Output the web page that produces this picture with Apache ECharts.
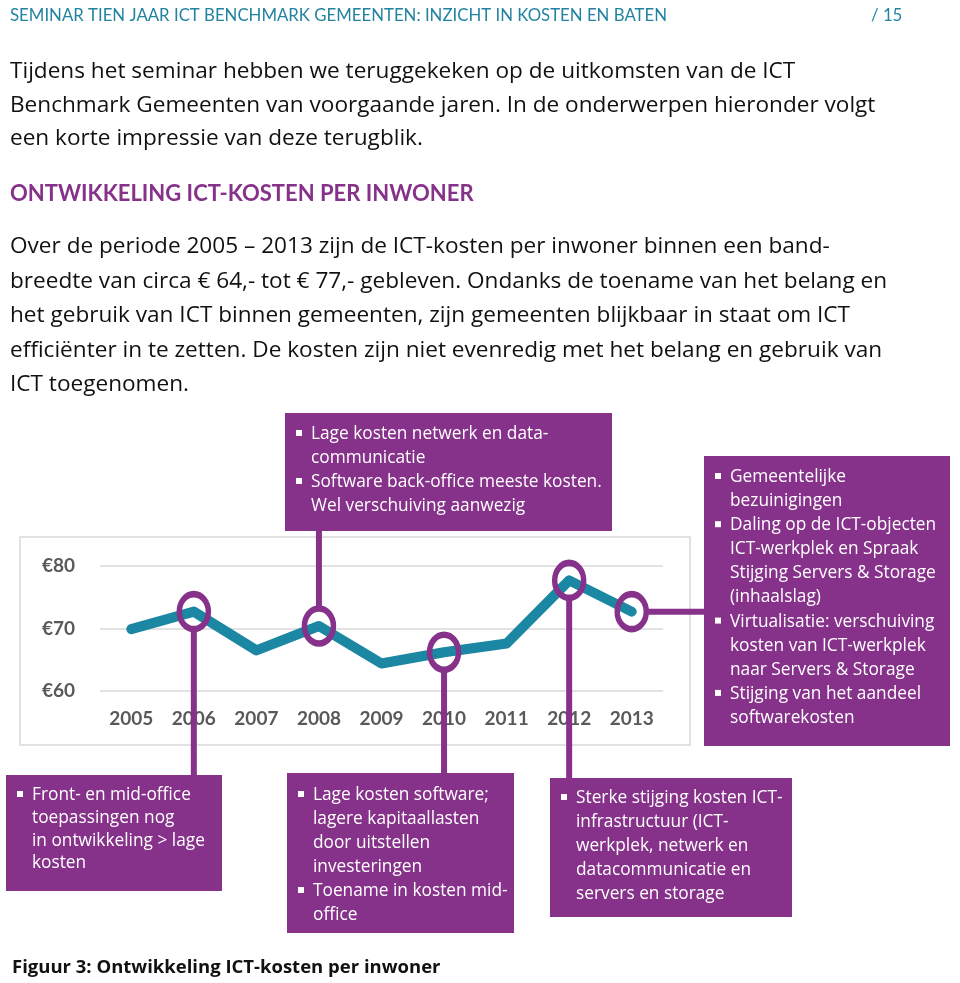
<!DOCTYPE html>
<html><head><meta charset="utf-8">
<script src="https://cdn.jsdelivr.net/npm/echarts@6/dist/echarts.min.js"></script>
<style>html,body{margin:0;padding:0;background:#fff}#c{width:960px;height:983px}</style>
</head><body><div id="c"></div>
<script>
// ---------- data ----------
const years = ['2005','2006','2007','2008','2009','2010','2011','2012','2013'];
const costPerInhabitant = [69.9, 72.7, 66.5, 70.4, 64.4, 66.2, 67.6, 77.7, 72.7];
const highlightedYears = ['2006','2008','2010','2012','2013'];
const yTicks = [60, 70, 80];

const headerTitle = 'SEMINAR TIEN JAAR ICT BENCHMARK GEMEENTEN: INZICHT IN KOSTEN EN BATEN';
const pageNumber = '/ 15';
const introLines = [
  'Tijdens het seminar hebben we teruggekeken op de uitkomsten van de ICT',
  'Benchmark Gemeenten van voorgaande jaren. In de onderwerpen hieronder volgt',
  'een korte impressie van deze terugblik.'
];
const sectionHeading = 'ONTWIKKELING ICT-KOSTEN PER INWONER';
const bodyLines = [
  'Over de periode 2005 \u2013 2013 zijn de ICT-kosten per inwoner binnen een band-',
  'breedte van circa \u20ac 64,- tot \u20ac 77,- gebleven. Ondanks de toename van het belang en',
  'het gebruik van ICT binnen gemeenten, zijn gemeenten blijkbaar in staat om ICT',
  'effici\u00ebnter in te zetten. De kosten zijn niet evenredig met het belang en gebruik van',
  'ICT toegenomen.'
];
const captionText = 'Figuur 3: Ontwikkeling ICT-kosten per inwoner';

const note2006 = [['Front- en mid-office', 'toepassingen nog', 'in ontwikkeling > lage', 'kosten']];
const note2008 = [['Lage kosten netwerk en data-', 'communicatie'], ['Software back-office meeste kosten.', 'Wel verschuiving aanwezig']];
const note2010 = [['Lage kosten software;', 'lagere kapitaallasten', 'door uitstellen', 'investeringen'], ['Toename in kosten mid-', 'office']];
const note2012 = [['Sterke stijging kosten ICT-', 'infrastructuur (ICT-', 'werkplek, netwerk en', 'datacommunicatie en', 'servers en storage']];
const note2013 = [['Gemeentelijke', 'bezuinigingen'], ['Daling op de ICT-objecten', 'ICT-werkplek en Spraak', 'Stijging Servers & Storage', '(inhaalslag)'], ['Virtualisatie: verschuiving', 'kosten van ICT-werkplek', 'naar Servers & Storage'], ['Stijging van het aandeel', 'softwarekosten']];
const notes = { '2006': note2006, '2008': note2008, '2010': note2010, '2012': note2012, '2013': note2013 };

// ---------- layout / style ----------
const TEAL = '#1B87A3';
const PURPLE = '#86318A';
const GRAY = '#595959';
const FONT = 'Lato, "Open Sans", sans-serif';
const TFONT = '"Open Sans", Lato, sans-serif';
const boxLayout = {
  '2006': { x: 6,   y: 775, w: 216, h: 116, side: 'bottom', firstLine: 20, lineH: 22.8 },
  '2008': { x: 285, y: 413, w: 327, h: 118, side: 'top',    firstLine: 21, lineH: 24 },
  '2010': { x: 287, y: 773, w: 227, h: 160, side: 'bottom', firstLine: 22, lineH: 24 },
  '2012': { x: 550, y: 778, w: 242, h: 139, side: 'bottom', firstLine: 20, lineH: 24 },
  '2013': { x: 704, y: 456, w: 246, h: 290, side: 'right',  firstLine: 21, lineH: 24.1 }
};
const ringW = 29, ringH = 35;

const chart = echarts.init(document.getElementById('c'), null, { renderer: 'canvas' });

const ringData = years.map((y, i) => highlightedYears.includes(y) ? costPerInhabitant[i] : null);

chart.setOption({
  animation: false,
  backgroundColor: '#fff',
  grid: { left: 100, right: 297, top: 566, bottom: 292, containLabel: false },
  xAxis: {
    type: 'category', data: years, boundaryGap: true,
    axisLine: { show: false }, axisTick: { show: false },
    axisLabel: { color: GRAY, fontFamily: FONT, fontWeight: 'bold', fontSize: 19, margin: 18 }
  },
  yAxis: {
    type: 'value', min: yTicks[0], max: yTicks[yTicks.length - 1], interval: 10,
    axisLine: { show: false }, axisTick: { show: false },
    axisLabel: { color: GRAY, fontFamily: FONT, fontWeight: 'bold', fontSize: 19, margin: 25,
      formatter: v => '\u20ac' + v },
    splitLine: { lineStyle: { color: '#D9D9D9', width: 1.5 } }
  },
  series: [
    { type: 'line', data: costPerInhabitant, symbol: 'none', z: 2,
      lineStyle: { color: TEAL, width: 10, join: 'round', cap: 'round' } },
    { type: 'scatter', data: ringData, z: 3,
      symbol: 'path://M0,10 A10,10 0 1,1 20,10 A10,10 0 1,1 0,10 Z',
      symbolSize: [ringW, ringH],
      itemStyle: { color: 'rgba(0,0,0,0)', borderColor: PURPLE, borderWidth: 6, opacity: 1 } }
  ]
});

// ---------- graphic overlay ----------
const g = [];
function text(x, y, t, style) {
  g.push({ type: 'text', x, y, z: 20, style: Object.assign({ text: t, fontFamily: TFONT, fill: '#111', verticalAlign: 'middle' }, style) });
}
// header
text(10, 16, headerTitle, { fill: '#2283A0', fontSize: 16.8, fontFamily: FONT });
text(871, 16, pageNumber, { fill: '#2283A0', fontSize: 16.8, fontFamily: FONT });
introLines.forEach((l, i) => text(10, 72 + i * 33.5, l, { fontSize: 22.6 }));
text(10, 194, sectionHeading, { fill: PURPLE, fontSize: 22, fontWeight: 'bold', fontFamily: FONT });
bodyLines.forEach((l, i) => text(10, 247 + i * 34.5, l, { fontSize: 22.6 }));
text(12, 968, captionText, { fontSize: 18.5, fontWeight: 'bold' });

// chart frame
g.push({ type: 'rect', z: 0, shape: { x: 20, y: 537, width: 670, height: 208 },
  style: { fill: 'none', stroke: '#D9D9D9', lineWidth: 1.5 } });

// notes and connectors
Object.keys(notes).forEach(year => {
  const b = boxLayout[year];
  const idx = years.indexOf(year);
  const p = chart.convertToPixel({ gridIndex: 0 }, [idx, costPerInhabitant[idx]]);
  let x1, y1, x2, y2;
  if (b.side === 'bottom') { x1 = x2 = p[0]; y1 = p[1] + ringH / 2 + 2; y2 = b.y; }
  else if (b.side === 'top') { x1 = x2 = p[0]; y1 = p[1] - ringH / 2 - 2; y2 = b.y + b.h; }
  else { y1 = y2 = p[1]; x1 = p[0] + ringW / 2 + 2; x2 = b.x; }
  g.push({ type: 'line', z: 8, shape: { x1, y1, x2, y2 }, style: { stroke: PURPLE, lineWidth: 6 } });
  g.push({ type: 'rect', z: 10, shape: { x: b.x, y: b.y, width: b.w, height: b.h }, style: { fill: PURPLE } });
  let ln = 0;
  notes[year].forEach(item => {
    item.forEach((line, j) => {
      const ly = b.y + b.firstLine + ln * b.lineH;
      if (j === 0) g.push({ type: 'rect', z: 21, shape: { x: b.x + 11, y: ly - 4, width: 6, height: 6 }, style: { fill: '#fff' } });
      text(b.x + 26, ly, line, { fill: '#fff', fontSize: 17.3 });
      ln++;
    });
  });
});

chart.setOption({ graphic: g });
</script>
</body></html>
